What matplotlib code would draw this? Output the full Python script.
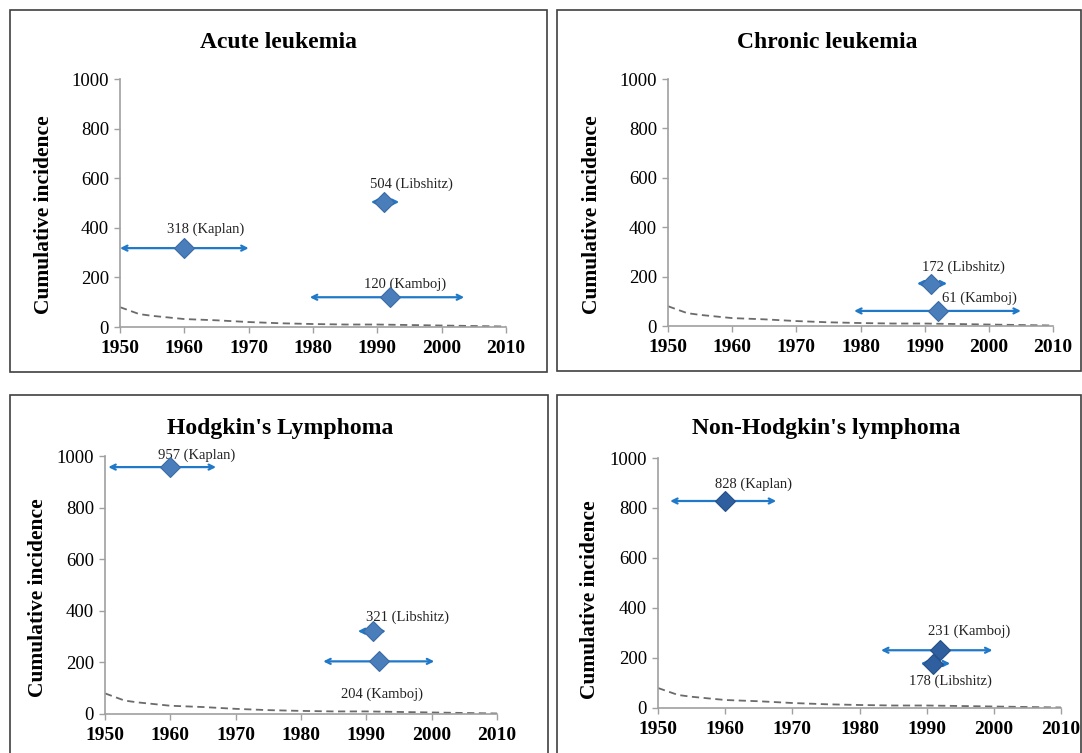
import matplotlib
matplotlib.use("Agg")
import matplotlib.pyplot as plt
from matplotlib.patches import Rectangle

plt.rcParams['font.family'] = ['Liberation Serif', 'DejaVu Serif']

# ---- data ----
titles = ["Acute leukemia", "Chronic leukemia", "Hodgkin's Lymphoma", "Non-Hodgkin's lymphoma"]
baseline_years = [1950, 1953, 1955, 1960, 1965, 1970, 1975, 1980, 1985, 1990, 1995, 2000, 2005, 2010]
baseline_vals = [80, 52, 45, 32, 27, 20, 15, 12, 10, 10, 8, 6, 4, 2]

# studies per panel: (label, year, value, range_lo, range_hi)
acute_studies = [("Kaplan", 1960, 318, 1950, 1970),
                 ("Libshitz", 1991, 504, 1989, 1993.4),
                 ("Kamboj", 1992, 120, 1979.5, 2003.5)]
chronic_studies = [("Libshitz", 1991, 172, 1988.8, 1993.5),
                   ("Kamboj", 1992, 61, 1979, 2005)]
hodgkin_studies = [("Kaplan", 1960, 957, 1950.5, 1967),
                   ("Libshitz", 1991, 321, 1988.7, 1993),
                   ("Kamboj", 1992, 204, 1983.4, 2000.4)]
nhl_studies = [("Kaplan", 1960, 828, 1951.8, 1967.6),
               ("Kamboj", 1992, 231, 1983.2, 1999.8),
               ("Libshitz", 1991, 178, 1989.1, 1993.5)]
panels_data = [acute_studies, chronic_studies, hodgkin_studies, nhl_studies]

x_ticks = [1950, 1960, 1970, 1980, 1990, 2000, 2010]
y_ticks = [0, 200, 400, 600, 800, 1000]

# ---- style / layout ----
W, H = 1082, 753
fig = plt.figure(figsize=(W / 100, H / 100), dpi=100)

def fx(px):
    return px / W

def fy(py):
    return 1 - py / H

# axes rects in pixels: left, right, top(y1000), bottom(y0)
axes_px = [(120, 506, 79, 327), (668, 1053, 79, 326), (105, 497, 456, 714), (658, 1061, 458, 708)]
boxes_px = [(10, 547, 10, 372), (557, 1081, 10, 371), (10, 548, 395, 760), (557, 1081, 395, 760)]
title_px = [(279, 42), (827, 42), (280, 428), (826, 428)]
ylabel_px = [(44, 215), (592, 215), (38, 598), (590, 600)]
# text offsets (pixels) for each annotation, same order as studies
offsets = [[(21, 19), (28, 18), (15, 13)],
           [(32, 16), (42, 13)],
           [(26, 12), (35, 14), (3, -33)],
           [(28, 17), (29, 19), (17, -18)]]
marker_face = ['#4A7EBB', '#4A7EBB', '#4A7EBB', '#2F5F9E']
marker_edge = ['#3A6AA5', '#3A6AA5', '#3A6AA5', '#24508A']
arrow_color = '#1F78C8'

for i in range(4):
    bl, br, bt, bb = boxes_px[i]
    fig.patches.append(Rectangle((fx(bl), fy(bb)), fx(br - bl), (bb - bt) / H,
                                 transform=fig.transFigure, fill=False,
                                 edgecolor='#404040', linewidth=1.2))
    l, r, t, b = axes_px[i]
    ax = fig.add_axes([fx(l), fy(b), fx(r - l), (b - t) / H])
    ax.set_xlim(1950, 2010)
    ax.set_ylim(0, 1000)
    ax.set_xticks(x_ticks)
    ax.set_yticks(y_ticks)
    ax.tick_params(axis='x', labelsize=14, colors='#A0A0A0', labelcolor='black',
                   length=4, width=1, pad=5)
    ax.tick_params(axis='y', labelsize=13.5, colors='#A0A0A0', labelcolor='black',
                   length=4, width=1, pad=4)
    for lab in ax.get_xticklabels():
        lab.set_fontweight('bold')
    for s in ['top', 'right']:
        ax.spines[s].set_visible(False)
    for s in ['left', 'bottom']:
        ax.spines[s].set_color('#A0A0A0')
        ax.spines[s].set_linewidth(1.2)
    ax.patch.set_alpha(0)

    ax.plot(baseline_years, baseline_vals, linestyle=(0, (4, 2.5)), color='#6b6b6b',
            linewidth=1.3, zorder=2)

    for j, (name, yr, val, lo, hi) in enumerate(panels_data[i]):
        ax.annotate('', xy=(hi, val), xytext=(lo, val),
                    arrowprops=dict(arrowstyle='<->', color=arrow_color, lw=1.6,
                                    shrinkA=0, shrinkB=0, mutation_scale=9),
                    zorder=3, annotation_clip=False)
        ax.plot([yr], [val], marker='D', markersize=10, color=marker_face[i],
                markeredgecolor=marker_edge[i], markeredgewidth=0.8, zorder=4,
                clip_on=False)
        dx, dy = offsets[i][j]
        ax.annotate(f"{val} ({name})", xy=(yr, val), xytext=(dx, dy),
                    textcoords='offset pixels', ha='center', va='center',
                    fontsize=10.5, color='#222222', annotation_clip=False)

    tx, ty = title_px[i]
    fig.text(fx(tx), fy(ty), titles[i], ha='center', va='center',
             fontsize=17, fontweight='bold')
    lx, ly = ylabel_px[i]
    fig.text(fx(lx), fy(ly), 'Cumulative incidence', ha='center', va='center',
             rotation=90, fontsize=15.5, fontweight='bold')

fig.savefig('out.png', dpi=100)
